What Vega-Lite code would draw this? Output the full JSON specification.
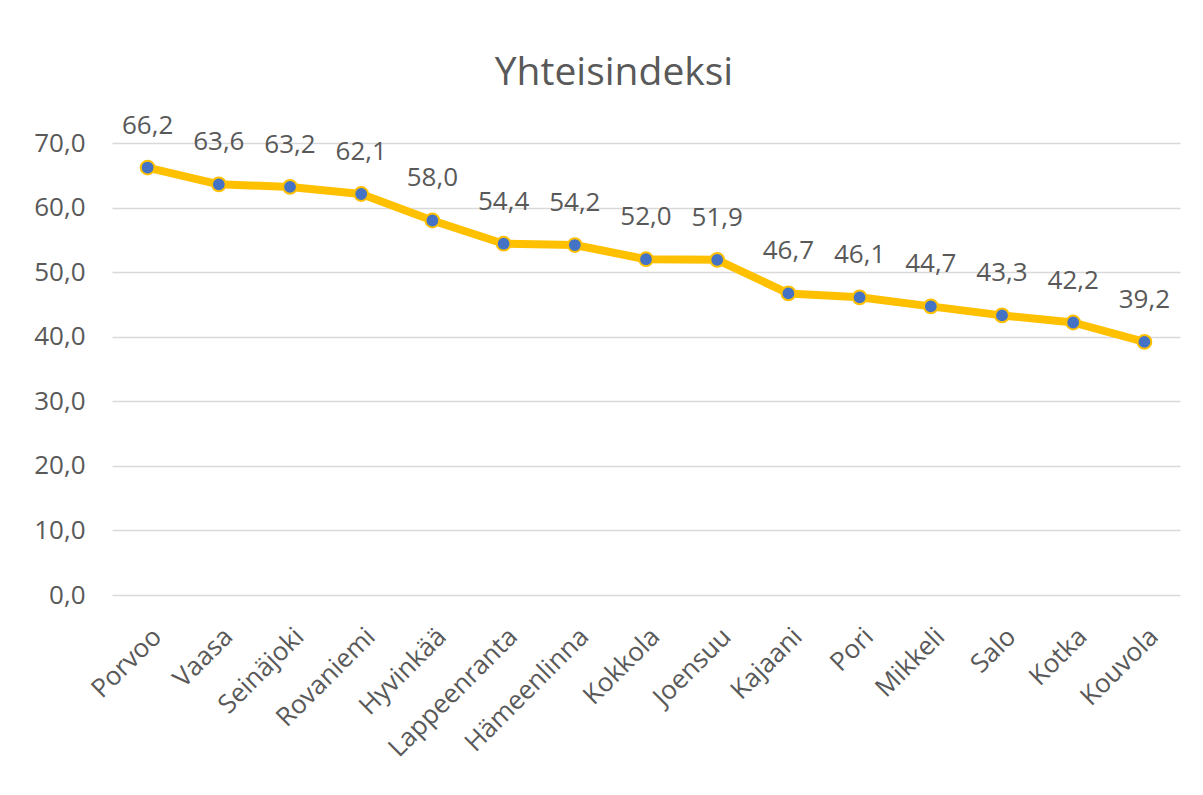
{
  "$schema": "https://vega.github.io/schema/vega-lite/v6.json",
  "autosize": "none",
  "width": 1068,
  "height": 452,
  "padding": {"left": 112, "top": 143, "right": 23, "bottom": 200},
  "background": "white",
  "title": {
    "text": "Yhteisindeksi",
    "font": "Open Sans",
    "fontSize": 39,
    "fontWeight": "normal",
    "color": "#595959",
    "anchor": "middle",
    "dx": -32,
    "offset": 20
  },
  "config": {
    "view": {"stroke": null},
    "locale": {"number": {"decimal": ",", "thousands": " ", "grouping": [3], "currency": ["", " €"]}},
    "axis": {
      "labelFont": "Open Sans",
      "labelFontSize": 26,
      "labelColor": "#595959",
      "domain": false,
      "ticks": false,
      "tickSize": 0,
      "title": null
    }
  },
  "data": {
    "values": [
      {"kaupunki": "Porvoo", "arvo": 66.2},
      {"kaupunki": "Vaasa", "arvo": 63.6},
      {"kaupunki": "Seinäjoki", "arvo": 63.2},
      {"kaupunki": "Rovaniemi", "arvo": 62.1},
      {"kaupunki": "Hyvinkää", "arvo": 58.0},
      {"kaupunki": "Lappeenranta", "arvo": 54.4},
      {"kaupunki": "Hämeenlinna", "arvo": 54.2},
      {"kaupunki": "Kokkola", "arvo": 52.0},
      {"kaupunki": "Joensuu", "arvo": 51.9},
      {"kaupunki": "Kajaani", "arvo": 46.7},
      {"kaupunki": "Pori", "arvo": 46.1},
      {"kaupunki": "Mikkeli", "arvo": 44.7},
      {"kaupunki": "Salo", "arvo": 43.3},
      {"kaupunki": "Kotka", "arvo": 42.2},
      {"kaupunki": "Kouvola", "arvo": 39.2}
    ]
  },
  "encoding": {
    "x": {
      "field": "kaupunki",
      "type": "nominal",
      "sort": null,
      "scale": {"type": "point", "padding": 0.5},
      "axis": {"labelAngle": -45, "labelPadding": 28, "grid": false}
    },
    "y": {
      "field": "arvo",
      "type": "quantitative",
      "scale": {"domain": [0, 70], "nice": false, "zero": true},
      "axis": {
        "values": [0, 10, 20, 30, 40, 50, 60, 70],
        "format": ".1f",
        "labelPadding": 27,
        "grid": true,
        "gridColor": "#D9D9D9",
        "gridWidth": 1.5
      }
    }
  },
  "layer": [
    {"mark": {"type": "line", "color": "#FFC000", "strokeWidth": 8, "strokeJoin": "round", "strokeCap": "round"}},
    {"mark": {"type": "point", "shape": "circle", "filled": true, "fill": "#4472C4", "stroke": "#FFC000", "strokeWidth": 2, "size": 190, "opacity": 1}},
    {
      "mark": {"type": "text", "font": "Open Sans", "fontSize": 26, "color": "#595959", "baseline": "alphabetic", "dy": -34},
      "encoding": {"text": {"field": "arvo", "type": "quantitative", "format": ".1f"}}
    }
  ]
}
